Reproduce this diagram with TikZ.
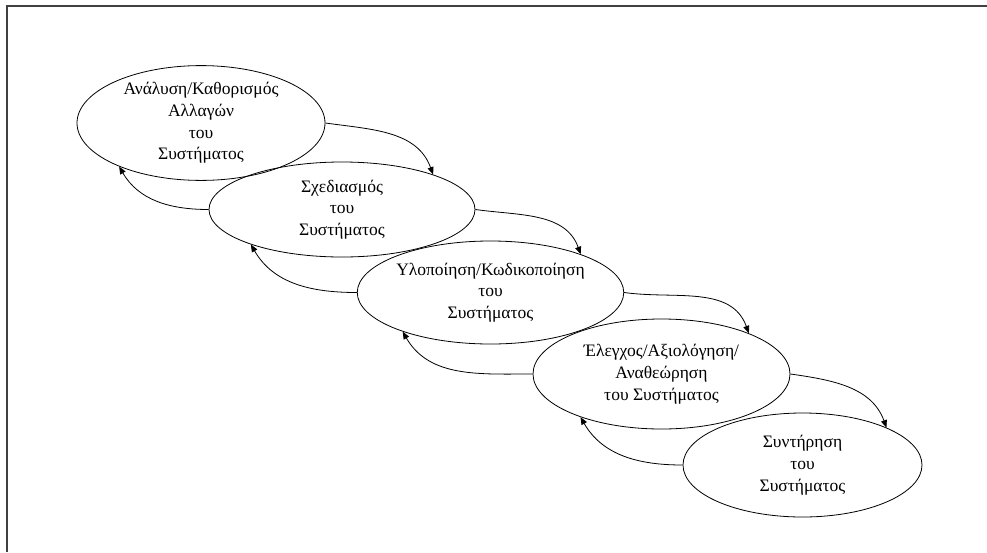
\documentclass[tikz,border=0pt]{standalone}
\usepackage{fontspec}
\setmainfont{Liberation Serif}
\usetikzlibrary{shapes.geometric,arrows.meta}
\begin{document}
\begin{tikzpicture}[x=1pt,y=-1pt,
  phase/.style={draw, ellipse, inner sep=0pt, line width=0.8pt, align=center,
    font=\fontsize{17.5}{21.7}\selectfont},
  flow/.style={line width=0.8pt, -{Triangle[length=7.5pt,width=6pt]}},
  frameline/.style={line width=1.2pt, draw=black!75}]
  \useasboundingbox (0,0) rectangle (987,552);
  % outer frame: top and left edges
  \draw[frameline] (7,552) -- (7,6) -- (987,6);

  % the five phases
  \node[phase, minimum width=248pt, minimum height=110pt] (e1) at (201,123)
    {Ανάλυση/Καθορισμός\\Αλλαγών\\του\\Συστήματος};
  \node[phase, minimum width=266pt, minimum height=95pt] (e2) at (342,209.5)
    {Σχεδιασμός\\του\\Συστήματος};
  \node[phase, minimum width=265pt, minimum height=103pt] (e3) at (490.5,292.5)
    {Υλοποίηση/Κωδικοποίηση\\του\\Συστήματος};
  \node[phase, minimum width=257pt, minimum height=110pt] (e4) at (661.5,374)
    {Έλεγχος/Αξιολόγηση/\\Αναθεώρηση\\του Συστήματος};
  \node[phase, minimum width=239pt, minimum height=104pt] (e5) at (802.5,465)
    {Συντήρηση\\του\\Συστήματος};

  % forward transitions
  \draw[flow] (e1.east) to[out=-8, in=110] (e2.21.4);
  \draw[flow] (e2.east) to[out=-8, in=110] (e3.23.1);
  \draw[flow] (e3.east) to[out=-8, in=110] (e4.25.6);
  \draw[flow] (e4.east) to[out=-8, in=110] (e5.24.5);

  % feedback transitions
  \draw[flow] (e2.west) to[out=180, in=-60] (e1.208.2);
  \draw[flow] (e3.west) to[out=180, in=-60] (e2.201.8);
  \draw[flow] (e4.west) to[out=180, in=-60] (e3.204.9);
  \draw[flow] (e5.west) to[out=180, in=-60] (e4.208.2);
\end{tikzpicture}
\end{document}
